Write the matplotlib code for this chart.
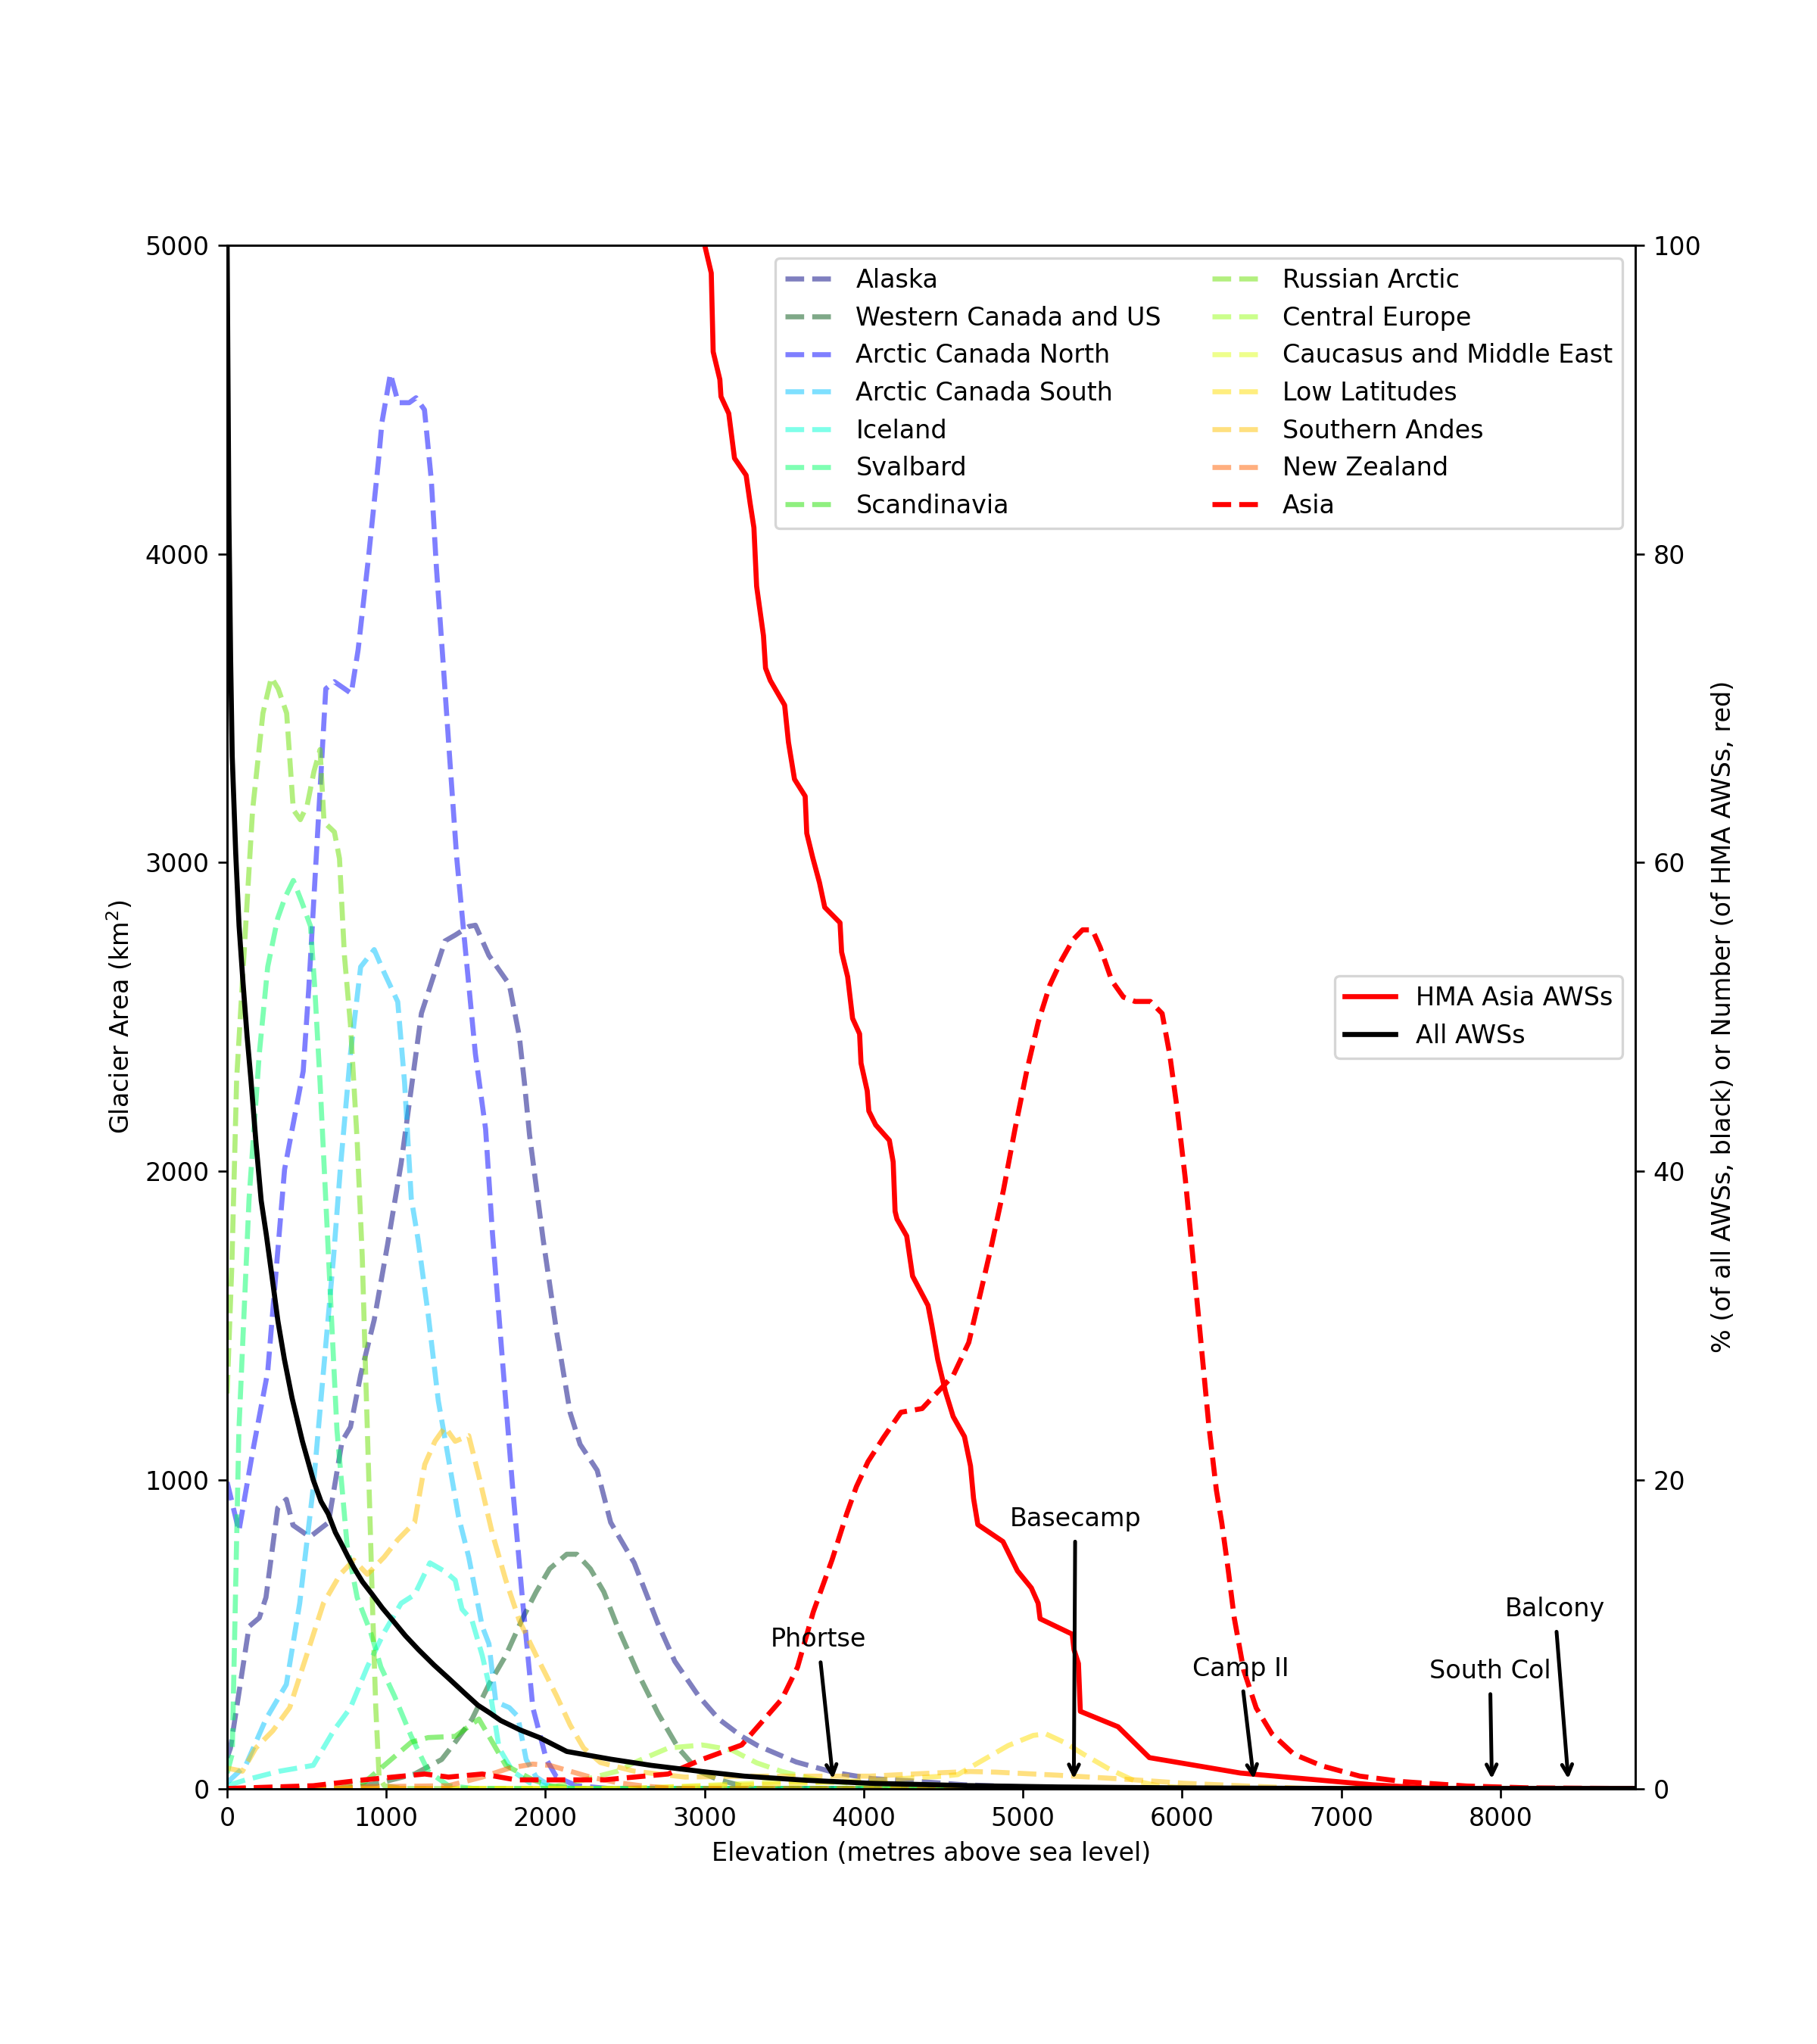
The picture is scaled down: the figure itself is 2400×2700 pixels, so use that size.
import matplotlib
matplotlib.use('Agg')
import matplotlib.pyplot as plt

# Glacier area (km^2) by elevation band
alaska_x = [0, 21, 138, 202, 244, 318, 372, 414, 520, 637, 722, 775, 839, 924, 1008, 1093, 1221,
            1369, 1433, 1518, 1560, 1645, 1773, 1836, 1868, 1900, 1985, 2070, 2155, 2218, 2325,
            2410, 2558, 2707, 2813, 2962, 3089, 3233, 3337, 3575, 3813, 4051, 4290, 4630, 5000,
            5500, 8848]
alaska_y = [100, 131, 525, 553, 619, 909, 937, 853, 815, 862, 1125, 1171, 1340, 1518, 1762, 2024,
            2512, 2746, 2765, 2793, 2797, 2699, 2605, 2437, 2287, 2118, 1781, 1481, 1218, 1115,
            1031, 862, 731, 534, 412, 300, 225, 169, 138, 86, 52, 32, 25, 12, 5, 0, 0]

wcanada_x = [0, 754, 966, 1178, 1348, 1433, 1539, 1645, 1751, 1858, 1942, 2027, 2134, 2197, 2282,
             2367, 2452, 2580, 2707, 2835, 2962, 3089, 3300, 8848]
wcanada_y = [0, 0, 19, 47, 94, 150, 225, 337, 431, 553, 637, 712, 759, 759, 712, 637, 525, 375,
             244, 131, 56, 28, 0, 0]

acn_x = [0, 74, 159, 255, 361, 478, 513, 620, 674, 780, 823, 888, 951, 973, 1026, 1075, 1144,
         1187, 1240, 1283, 1315, 1358, 1400, 1443, 1486, 1560, 1624, 1667, 1730, 1794, 1858,
         1921, 2006, 2070, 2197, 2400, 8848]
acn_y = [993, 834, 1087, 1350, 2006, 2324, 2592, 3563, 3586, 3548, 3689, 3987, 4302, 4427, 4584,
         4490, 4490, 4506, 4467, 4239, 3956, 3641, 3327, 3013, 2778, 2380, 2137, 1800, 1387,
         975, 600, 262, 94, 37, 9, 0, 0]

acs_x = [0, 117, 244, 372, 456, 541, 605, 669, 711, 775, 839, 924, 987, 1072, 1115, 1157, 1199,
         1263, 1327, 1391, 1454, 1518, 1603, 1645, 1688, 1773, 1826, 1879, 1942, 2027, 2200, 8848]
acs_y = [19, 75, 225, 337, 600, 975, 1350, 1724, 2006, 2380, 2662, 2718, 2643, 2549, 2287, 1912,
         1781, 1537, 1256, 1068, 881, 750, 525, 469, 281, 262, 234, 94, 37, 9, 0, 0]

iceland_x = [0, 117, 329, 541, 669, 775, 881, 987, 1093, 1178, 1274, 1369, 1433, 1476, 1539,
             1603, 1645, 1709, 1794, 1900, 2100, 8848]
iceland_y = [9, 28, 56, 75, 187, 262, 394, 506, 600, 628, 731, 703, 675, 581, 544, 431, 337, 131,
             56, 19, 0, 0]

svalbard_x = [0, 32, 74, 138, 202, 255, 318, 364, 416, 470, 524, 550, 584, 637, 690, 754, 817,
              902, 966, 1051, 1157, 1263, 1391, 1550, 8848]
svalbard_y = [50, 112, 1162, 1912, 2380, 2662, 2820, 2887, 2942, 2871, 2794, 2600, 2287, 1724,
              1162, 787, 619, 506, 394, 300, 169, 56, 9, 0, 0]

scand_x = [0, 700, 860, 1008, 1157, 1263, 1433, 1582, 1667, 1751, 1921, 2027, 2200, 8848]
scand_y = [0, 0, 19, 84, 150, 165, 169, 225, 150, 75, 28, 9, 0, 0]

rarctic_x = [0, 30, 60, 100, 160, 225, 278, 321, 374, 416, 460, 503, 546, 584, 609, 674, 706,
             737, 775, 817, 849, 870, 892, 913, 934, 955, 987, 1100, 8848]
rarctic_y = [1280, 1700, 2300, 2650, 3170, 3484, 3600, 3563, 3484, 3171, 3139, 3186, 3296, 3366,
             3131, 3099, 3013, 2699, 2474, 2099, 1724, 1350, 975, 600, 262, 37, 9, 0, 0]

ceurope_x = [0, 2000, 2240, 2452, 2558, 2771, 2983, 3012, 3170, 3328, 3486, 3722, 4038, 4400, 8848]
ceurope_y = [0, 0, 28, 56, 84, 131, 141, 139, 125, 83, 55, 26, 12, 0, 0]

caucasus_x = [0, 2500, 3000, 3500, 4000, 4500, 5000, 8848]
caucasus_y = [0, 0, 10, 22, 20, 10, 0, 0]

lowlat_x = [0, 2500, 3500, 4000, 4500, 4591, 4749, 4907, 5065, 5144, 5262, 5381, 5539, 5697,
            5855, 6100, 8848]
lowlat_y = [0, 0, 15, 25, 40, 45, 92, 139, 172, 177, 149, 111, 64, 26, 8, 0, 0]

sandes_x = [0, 96, 180, 287, 393, 499, 605, 711, 796, 881, 987, 1072, 1178, 1242, 1306, 1369,
            1433, 1518, 1582, 1667, 1751, 1836, 1942, 2070, 2155, 2240, 2346, 2558, 2877, 3249,
            3644, 4038, 4433, 4670, 4828, 5223, 5618, 6012, 6407, 6800, 8848]
sandes_y = [66, 56, 131, 187, 262, 431, 600, 694, 740, 694, 750, 806, 862, 1050, 1125, 1171,
            1125, 1143, 1012, 825, 675, 544, 431, 300, 206, 131, 84, 56, 37, 40, 40, 40, 50, 55,
            53, 43, 31, 17, 8, 0, 0]

nz_x = [0, 1391, 1603, 1773, 1921, 2027, 2155, 2282, 2452, 2600, 2800, 8848]
nz_y = [0, 9, 37, 66, 79, 75, 56, 37, 19, 9, 0, 0]

asia_x = [0, 541, 860, 1242, 1391, 1603, 1815, 2027, 2367, 2558, 2771, 2983, 3233, 3486, 3584,
          3683, 3801, 3893, 3954, 4027, 4124, 4234, 4367, 4465, 4562, 4660, 4733, 4805, 4878,
          4951, 5024, 5097, 5170, 5243, 5315, 5375, 5437, 5486, 5559, 5632, 5705, 5801, 5875,
          5923, 5972, 6020, 6070, 6119, 6168, 6216, 6250, 6289, 6328, 6387, 6466, 6565, 6703,
          6881, 7118, 7394, 7789, 8184, 8848]
asia_y = [0, 9, 28, 47, 37, 47, 28, 28, 28, 37, 47, 94, 141, 290, 393, 572, 741, 890, 978, 1059,
          1137, 1219, 1231, 1285, 1338, 1445, 1604, 1764, 1939, 2138, 2324, 2484, 2604, 2684,
          2750, 2782, 2782, 2725, 2617, 2564, 2550, 2550, 2511, 2377, 2192, 1978, 1711, 1445,
          1178, 966, 860, 713, 553, 384, 261, 177, 111, 73, 40, 22, 8, 2, 0]

regions = ['Alaska', 'Western Canada and US', 'Arctic Canada North', 'Arctic Canada South',
           'Iceland', 'Svalbard', 'Scandinavia', 'Russian Arctic', 'Central Europe',
           'Caucasus and Middle East', 'Low Latitudes', 'Southern Andes', 'New Zealand', 'Asia']
region_x = [alaska_x, wcanada_x, acn_x, acs_x, iceland_x, svalbard_x, scand_x, rarctic_x,
            ceurope_x, caucasus_x, lowlat_x, sandes_x, nz_x, asia_x]
region_y = [alaska_y, wcanada_y, acn_y, acs_y, iceland_y, svalbard_y, scand_y, rarctic_y,
            ceurope_y, caucasus_y, lowlat_y, sandes_y, nz_y, asia_y]
region_colors = [(0.0, 0.0, 0.5), (0.0, 0.33, 0.07), (0.0, 0.0, 1.0), (0.0, 0.76, 1.0),
                 (0.0, 1.0, 0.83), (0.0, 1.0, 0.41), (0.13, 0.88, 0.0), (0.41, 0.88, 0.0),
                 (0.6, 1.0, 0.1), (0.87, 1.0, 0.1), (1.0, 0.87, 0.0), (1.0, 0.76, 0.0),
                 (1.0, 0.38, 0.0), (1.0, 0.0, 0.0)]

# AWS distributions (right axis)
all_aws_x = [0, 11, 22, 32, 54, 75, 100, 125, 149, 181, 214, 246, 279, 319, 360, 408, 473, 541,
             590, 635, 680, 716, 760, 797, 850, 910, 975, 1040, 1120, 1202, 1300, 1396, 1490,
             1575, 1650, 1720, 1840, 1963, 2134, 2410, 2664, 2983, 3249, 3644, 4038, 4630, 5223,
             6000, 7000, 8848]
all_aws_y = [100, 82.6, 73.2, 66.9, 60.6, 55.9, 52.2, 48.8, 46.0, 41.9, 38.1, 35.9, 33.4, 30.3,
             27.8, 25.3, 22.5, 20.0, 18.6, 17.8, 16.6, 15.9, 15.0, 14.3, 13.4, 12.6, 11.7, 10.9,
             9.9, 9.0, 8.0, 7.1, 6.2, 5.4, 4.9, 4.4, 3.8, 3.3, 2.4, 1.9, 1.5, 1.1, 0.8, 0.53,
             0.34, 0.19, 0.1, 0.04, 0.0, 0.0]

hma_x = [2994, 3042, 3054, 3096, 3103, 3152, 3188, 3261, 3286, 3310, 3327, 3370, 3383, 3413,
         3503, 3527, 3565, 3632, 3642, 3680, 3722, 3755, 3851, 3861, 3899, 3930, 3974, 3983,
         4022, 4032, 4075, 4161, 4185, 4197, 4209, 4270, 4307, 4404, 4428, 4465, 4514, 4562,
         4633, 4671, 4690, 4717, 4875, 4966, 5053, 5096, 5108, 5310, 5321, 5349, 5361, 5598,
         5795, 6368, 7197, 7600, 8848]
hma_y = [100.3, 98.2, 93.1, 91.3, 90.2, 89.1, 86.2, 85.1, 83.3, 81.7, 77.9, 74.7, 72.6, 71.8,
         70.2, 67.8, 65.4, 64.3, 61.9, 60.3, 58.7, 57.1, 56.1, 54.2, 52.6, 49.9, 48.9, 47.0,
         45.2, 43.9, 43.0, 42.0, 40.6, 37.4, 36.9, 35.8, 33.2, 31.3, 30.0, 27.8, 25.7, 24.1,
         22.8, 20.9, 18.8, 17.1, 16.0, 14.1, 13.0, 12.0, 11.0, 10.0, 9.0, 8.1, 5.0, 4.0, 2.0,
         1.0, 0.24, 0.0, 0.0]

# Everest route markers: label, elevation, label position (x, y in km^2 units)
sites = ['Phortse', 'Basecamp', 'Camp II', 'South Col', 'Balcony']
site_elev = [3810, 5320, 6454, 7947, 8429]
site_text_x = [3714, 5329, 6368, 7935, 8342]
site_text_y = [482, 873, 388, 379, 581]

fig = plt.figure(figsize=(10, 11.25), dpi=240)
ax1 = fig.add_axes([0.125, 0.125, 0.775, 0.755])

for name, xs, ys, c in zip(regions, region_x, region_y, region_colors):
    a = 1.0 if name == 'Asia' else 0.5
    ax1.plot(xs, ys, '--', color=c, alpha=a, linewidth=2, label=name)

ax1.set_xlim(0, 8848)
ax1.set_ylim(0, 5000)
ax1.set_xlabel('Elevation (metres above sea level)')
ax1.set_ylabel('Glacier Area (km$^2$)')
ax1.legend(loc='upper right', ncol=2)

ax2 = ax1.twinx()
ax2.plot(hma_x, hma_y, '-', color='red', linewidth=2, label='HMA Asia AWSs')
ax2.plot(all_aws_x, all_aws_y, '-', color='black', linewidth=2, label='All AWSs')
ax2.set_ylim(0, 100)
ax2.set_ylabel('% (of all AWSs, black) or Number (of HMA AWSs, red)')
ax2.legend(loc='center right')

for name, ex, tx, ty in zip(sites, site_elev, site_text_x, site_text_y):
    ax2.annotate(name, xy=(ex, 0.3), xytext=(tx, ty / 50.0),
                 ha='center', va='center',
                 arrowprops=dict(arrowstyle='->', color='black', lw=1.5))

fig.savefig('out.png', dpi=240)
